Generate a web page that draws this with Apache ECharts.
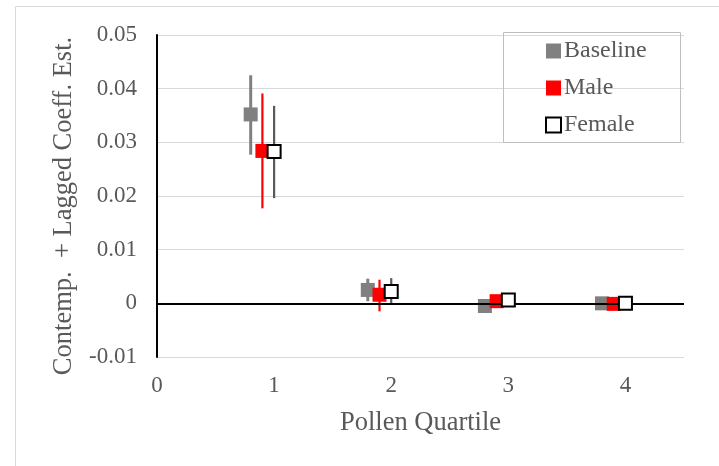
<!DOCTYPE html>
<html>
<head>
<meta charset="utf-8">
<script src="https://cdn.jsdelivr.net/npm/echarts@6/dist/echarts.min.js"></script>
<style>html,body{margin:0;padding:0;background:#fff}#c{width:719px;height:466px}</style>
</head>
<body>
<div id="c"></div>
<script>
const quartiles = [1, 2, 3, 4];
const xTicks = [0, 1, 2, 3, 4];
const yTicks = [-0.01, 0, 0.01, 0.02, 0.03, 0.04, 0.05];

const baselineEst  = [0.0352, 0.0025, -0.0005, 0.0000];
const baselineLow  = [0.0277, 0.0004, -0.0010, -0.0003];
const baselineHigh = [0.0425, 0.0046, 0.0000, 0.0003];

const maleEst  = [0.0284, 0.0016, 0.0004, -0.0001];
const maleLow  = [0.0177, -0.0015, -0.0001, -0.0004];
const maleHigh = [0.0391, 0.0044, 0.0009, 0.0002];

const femaleEst  = [0.0283, 0.0022, 0.0006, 0.0000];
const femaleLow  = [0.0196, -0.0002, 0.0000, -0.0003];
const femaleHigh = [0.0368, 0.0047, 0.0012, 0.0003];

const seriesNames = ['Baseline', 'Male', 'Female'];
const FONT = '"Liberation Serif", "Times New Roman", serif';
const TXT = '#595959';

function pts(est, off) { return quartiles.map((q, i) => [q + off, est[i]]); }
function bars(lo, hi, off) { return quartiles.map((q, i) => [q + off, lo[i], hi[i]]); }

function errSeries(name, data, color, width) {
  return {
    name: name, type: 'custom', silent: true, z: 2,
    renderItem: function (params, api) {
      const a = api.coord([api.value(0), api.value(1)]);
      const b = api.coord([api.value(0), api.value(2)]);
      return { type: 'line', shape: { x1: a[0], y1: a[1], x2: b[0], y2: b[1] },
               style: { stroke: color, lineWidth: width } };
    },
    encode: { x: 0, y: [1, 2] },
    data: data
  };
}

const chart = echarts.init(document.getElementById('c'));
chart.setOption({
  animation: false,
  backgroundColor: '#fff',
  graphic: [
    { type: 'rect', shape: { x: 15.5, y: 6.5, width: 760, height: 500 },
      style: { fill: 'none', stroke: '#d9d9d9', lineWidth: 1 }, z: -10 },
    { type: 'rect', shape: { x: 503.5, y: 32.5, width: 177, height: 110 },
      style: { fill: 'none', stroke: '#bfbfbf', lineWidth: 1 }, z: 10 }
  ],
  grid: { left: 157, right: 35, top: 35, bottom: 109 },
  legend: {
    orient: 'vertical', left: 545, top: 39, itemWidth: 15, itemHeight: 15, itemGap: 13,
    data: seriesNames, icon: 'rect', padding: 0,
    textStyle: { fontFamily: FONT, fontSize: 24, color: TXT, lineHeight: 24, padding: [0, 0, 0, -2] }
  },
  xAxis: {
    type: 'value', min: 0, max: 4.5, interval: 1,
    name: 'Pollen Quartile', nameLocation: 'middle', nameGap: 53,
    nameTextStyle: { fontFamily: FONT, fontSize: 26.5, color: TXT },
    axisLine: { show: false }, axisTick: { show: false }, splitLine: { show: false },
    axisLabel: { fontFamily: FONT, fontSize: 23, color: TXT, margin: 17, showMaxLabel: false,
      formatter: v => (xTicks.indexOf(v) >= 0 ? String(v) : '') }
  },
  yAxis: {
    type: 'value', min: -0.01, max: 0.05, interval: 0.01,
    name: 'Contemp.  + Lagged Coeff. Est.', nameLocation: 'middle', nameGap: 79,
    nameTextStyle: { fontFamily: FONT, fontSize: 26.5, color: TXT, padding: [0, 20, 0, 0] },
    axisLine: { show: true, onZero: false, lineStyle: { color: '#000', width: 2 } },
    axisTick: { show: false },
    splitLine: { show: true, lineStyle: { color: '#d9d9d9', width: 1 } },
    axisLabel: { fontFamily: FONT, fontSize: 23, color: TXT, margin: 20,
      formatter: v => { const r = Math.round(v * 100) / 100; return yTicks.indexOf(r) >= 0 ? String(r) : ''; } }
  },
  series: [
    {
      name: 'zero', type: 'line', data: [], silent: true, z: 1,
      markLine: { silent: true, symbol: 'none', label: { show: false },
        lineStyle: { color: '#000', width: 2, type: 'solid' }, data: [{ yAxis: 0 }] }
    },
    errSeries('eb', bars(baselineLow, baselineHigh, -0.2), '#808080', 3),
    errSeries('em', bars(maleLow, maleHigh, -0.1), '#ff0000', 2.2),
    errSeries('ef', bars(femaleLow, femaleHigh, 0), '#595959', 2.2),
    { name: 'Baseline', type: 'scatter', symbol: 'rect', symbolSize: 14, z: 3,
      itemStyle: { color: '#808080', opacity: 1 }, data: pts(baselineEst, -0.2) },
    { name: 'Male', type: 'scatter', symbol: 'rect', symbolSize: 14, z: 4,
      itemStyle: { color: '#ff0000', opacity: 1 }, data: pts(maleEst, -0.1) },
    { name: 'Female', type: 'scatter', symbol: 'rect', symbolSize: 13, z: 5,
      itemStyle: { color: '#ffffff', borderColor: '#000', borderWidth: 2, opacity: 1 }, data: pts(femaleEst, 0) }
  ]
});
</script>
</body>
</html>
